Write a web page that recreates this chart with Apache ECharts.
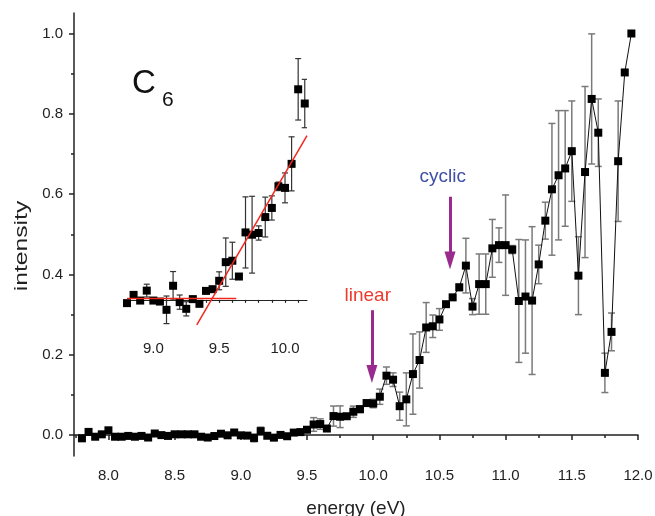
<!DOCTYPE html>
<html>
<head>
<meta charset="utf-8">
<script src="https://cdn.jsdelivr.net/npm/echarts@6/dist/echarts.min.js"></script>
<style>
  html, body { margin: 0; padding: 0; background: #fff; }
  #chart { width: 655px; height: 516px; }
</style>
</head>
<body>
<div id="chart"></div>
<script>
// Photoion yield of C6 versus photon energy, with a magnified inset of the onset region.
const energy = [
  7.80, 7.85, 7.90, 7.95, 8.00, 8.05, 8.10, 8.15, 8.20, 8.25,
  8.30, 8.35, 8.40, 8.45, 8.50, 8.55, 8.60, 8.65, 8.70, 8.75,
  8.80, 8.85, 8.90, 8.95, 9.00, 9.05, 9.10, 9.15, 9.20, 9.25,
  9.30, 9.35, 9.40, 9.45, 9.50, 9.55, 9.60, 9.65, 9.70, 9.75,
  9.80, 9.85, 9.90, 9.95, 10.00, 10.05, 10.10, 10.15, 10.20, 10.25,
  10.30, 10.35, 10.40, 10.45, 10.50, 10.55, 10.60, 10.65, 10.70, 10.75,
  10.80, 10.85, 10.90, 10.95, 11.00, 11.05, 11.10, 11.15, 11.20, 11.25,
  11.30, 11.35, 11.40, 11.45, 11.50, 11.55, 11.60, 11.65, 11.70, 11.75,
  11.80, 11.85, 11.90, 11.95
];
const intensity = [
  -0.008, 0.008, -0.004, 0.002, 0.012, -0.004, -0.004, -0.002, -0.004, -0.002,
  -0.006, 0.004, 0.000, -0.002, 0.002, 0.002, 0.002, 0.002, -0.004, -0.006,
  -0.0023, 0.0035, -0.0005, 0.0065, -0.0005, -0.0012, -0.007, 0.0099, -0.0016, -0.0063,
  0.0005, -0.0028, 0.0063, 0.0075, 0.0134, 0.0265, 0.0275, 0.0164, 0.0474, 0.0458,
  0.047, 0.0582, 0.0646, 0.0798, 0.0787, 0.0956, 0.148, 0.138, 0.072, 0.089,
  0.152, 0.187, 0.268, 0.271, 0.288, 0.326, 0.343, 0.368, 0.422, 0.320,
  0.376, 0.376, 0.465, 0.473, 0.473, 0.462, 0.334, 0.345, 0.335, 0.425,
  0.534, 0.612, 0.647, 0.664, 0.707, 0.397, 0.655, 0.837, 0.753, 0.155,
  0.257, 0.682, 0.903, 1.000
];
const errorBar = [
  0, 0, 0, 0, 0, 0, 0, 0, 0, 0,
  0, 0, 0, 0, 0, 0, 0, 0, 0, 0,
  0.002, 0, 0, 0.0045, 0, 0, 0.0097, 0.010, 0.005, 0.005,
  0.002, 0, 0, 0, 0.0063, 0.017, 0.013, 0, 0.025, 0.027,
  0.005, 0.014, 0.0085, 0.003, 0.0105, 0.019, 0.0216, 0.017, 0.035, 0.066,
  0.100, 0.070, 0.062, 0.028, 0.027, 0.005, 0.005, 0.008, 0.068, 0.020,
  0.075, 0.075, 0.072, 0.043, 0.125, 0.010, 0.153, 0.141, 0.184, 0.048,
  0.046, 0.164, 0.161, 0.144, 0.125, 0.097, 0.213, 0.162, 0.084, 0.049,
  0.047, 0.150, 0, 0
];

// Tick positions and labels
const xMajorTicks = [8.0, 8.5, 9.0, 9.5, 10.0, 10.5, 11.0, 11.5, 12.0];
const xMinorTicks = [7.75, 8.25, 8.75, 9.25, 9.75, 10.25, 10.75, 11.25, 11.75];
const yMajorTicks = [0.0, 0.2, 0.4, 0.6, 0.8, 1.0];
const yMinorTicks = [0.1, 0.3, 0.5, 0.7, 0.9];
const insetLabelTicks = [9.0, 9.5, 10.0];
const insetTicks = [8.8, 8.9, 9.0, 9.1, 9.2, 9.3, 9.4, 9.5, 9.6, 9.7, 9.8, 9.9, 10.0, 10.1];

// Range shown in the inset
const insetRange = [8.8, 10.167];

// Linear fits to the onset: flat baseline and rising edge
const baselineFit = [[8.8, 0.001], [9.63, 0.001]];
const edgeFit = [[9.33, -0.0176], [10.167, 0.1155]];

// Threshold arrows (energy, shaft top, head centre) and their captions
const linearArrow = { e: 9.99, top: 0.311, tip: 0.152 };
const cyclicArrow = { e: 10.58, top: 0.5935, tip: 0.435 };
const linearCaption = [9.959, 0.347];
const cyclicCaption = [10.525, 0.643];

const FONT = '"Liberation Sans", Arial, Helvetica, sans-serif';
const TXT = '#222';

const points = energy.map((e, i) => [e, intensity[i]]);
const bars = energy.map((e, i) => [e, intensity[i] - errorBar[i], intensity[i] + errorBar[i]])
  .filter((d, i) => errorBar[i] > 0);
const insetPoints = points.filter(p => p[0] >= insetRange[0] - 1e-9 && p[0] <= insetRange[1]);
const insetBars = bars.filter(b => b[0] >= insetRange[0] - 1e-9 && b[0] <= insetRange[1]);

function errorRenderer(color, width, capHalf) {
  return function (params, api) {
    const x = api.value(0);
    const top = api.coord([x, api.value(2)]);
    const bot = api.coord([x, api.value(1)]);
    const style = { stroke: color, lineWidth: width };
    return {
      type: 'group',
      children: [
        { type: 'line', shape: { x1: top[0], y1: top[1], x2: bot[0], y2: bot[1] }, style },
        { type: 'line', shape: { x1: top[0] - capHalf, y1: top[1], x2: top[0] + capHalf, y2: top[1] }, style },
        { type: 'line', shape: { x1: bot[0] - capHalf, y1: bot[1], x2: bot[0] + capHalf, y2: bot[1] }, style }
      ]
    };
  };
}

const chart = echarts.init(document.getElementById('chart'), null, { renderer: 'canvas' });

const axisLineStyle = { color: '#222', width: 1.5 };
const labelStyle = { color: TXT, fontSize: 15, fontFamily: FONT };

chart.setOption({
  animation: false,
  backgroundColor: '#fff',
  grid: [
    { left: 74, top: 13, width: 564, height: 443, containLabel: false, outerBoundsMode: 'none' },
    { left: 127, top: 58, width: 180, height: 276, containLabel: false, outerBoundsMode: 'none' }
  ],
  xAxis: [
    {
      type: 'value', gridIndex: 0, position: 'bottom', min: 7.74, max: 12.0,
      axisLine: { show: true, lineStyle: axisLineStyle },
      axisTick: { show: true, customValues: xMajorTicks, length: 5, lineStyle: { color: '#222', width: 1.5 } },
      axisLabel: { show: true, customValues: xMajorTicks, margin: 12, formatter: v => v.toFixed(1), ...labelStyle },
      splitLine: { show: false },
      name: 'energy (eV)', nameLocation: 'middle', nameGap: 43,
      nameTextStyle: { color: TXT, fontSize: 19, fontFamily: FONT }
    },
    {
      type: 'value', gridIndex: 0, position: 'bottom', min: 7.74, max: 12.0,
      axisLine: { show: false },
      axisTick: { show: true, customValues: xMinorTicks, length: 3, lineStyle: { color: '#222', width: 1.5 } },
      axisLabel: { show: false },
      splitLine: { show: false }
    },
    {
      type: 'value', gridIndex: 1, position: 'bottom', min: insetRange[0], max: insetRange[1],
      axisLine: { show: true, lineStyle: { color: '#222', width: 1.2 } },
      axisTick: { show: true, customValues: insetTicks, length: 3, lineStyle: { color: '#222', width: 1.2 } },
      axisLabel: { show: true, customValues: insetLabelTicks, margin: 7, formatter: v => v.toFixed(1), ...labelStyle },
      splitLine: { show: false }
    }
  ],
  yAxis: [
    {
      type: 'value', gridIndex: 0, position: 'left', min: -0.052, max: 1.051,
      axisLine: { show: true, lineStyle: axisLineStyle },
      axisTick: { show: true, customValues: yMajorTicks, length: 5, lineStyle: { color: '#222', width: 1.5 } },
      axisLabel: { show: true, customValues: yMajorTicks, margin: 11, formatter: v => v.toFixed(1), ...labelStyle },
      splitLine: { show: false }
    },
    {
      type: 'value', gridIndex: 0, position: 'left', min: -0.052, max: 1.051,
      axisLine: { show: false },
      axisTick: { show: true, customValues: yMinorTicks, length: 3, lineStyle: { color: '#222', width: 1.5 } },
      axisLabel: { show: false },
      splitLine: { show: false }
    },
    {
      type: 'value', gridIndex: 1, min: -0.024, max: 0.17,
      show: false, splitLine: { show: false }
    }
  ],
  graphic: [
    { type: 'text', x: 22, y: 246, rotation: Math.PI / 2, scaleX: 1.3,
      style: { text: 'intensity', fill: TXT, font: '19px ' + FONT, textAlign: 'center', textVerticalAlign: 'middle' } },
    { type: 'text', x: 132, y: 84,
      style: { text: 'C', fill: '#111', font: '33px ' + FONT, textAlign: 'left', textVerticalAlign: 'middle' } },
    { type: 'text', x: 162, y: 100,
      style: { text: '6', fill: '#111', font: '21px ' + FONT, textAlign: 'left', textVerticalAlign: 'middle' } }
  ],
  series: [
    {
      type: 'custom', name: 'error', xAxisIndex: 0, yAxisIndex: 0, z: 1,
      renderItem: errorRenderer('#7a7a7a', 1.5, 3.5),
      encode: { x: 0, y: [1, 2] },
      data: bars
    },
    {
      type: 'line', name: 'C6', xAxisIndex: 0, yAxisIndex: 0, z: 2,
      data: points,
      symbol: 'rect', symbolSize: 8,
      itemStyle: { color: '#000', opacity: 1 },
      lineStyle: { color: '#111', width: 1 },
      markLine: {
        silent: true,
        symbol: ['none', 'triangle'],
        symbolSize: [11, 18],
        lineStyle: { color: '#992a8e', width: 3, type: 'solid' },
        label: { show: false },
        data: [
          [{ coord: [linearArrow.e, linearArrow.top] }, { coord: [linearArrow.e, linearArrow.tip] }],
          [{ coord: [cyclicArrow.e, cyclicArrow.top] }, { coord: [cyclicArrow.e, cyclicArrow.tip] }]
        ]
      },
      markPoint: {
        silent: true,
        symbol: 'circle', symbolSize: 1,
        itemStyle: { color: 'rgba(0,0,0,0)' },
        data: [
          { coord: linearCaption, label: { show: true, position: 'inside', formatter: 'linear',
            color: '#ec3b2c', fontSize: 19, fontFamily: FONT } },
          { coord: cyclicCaption, label: { show: true, position: 'inside', formatter: 'cyclic',
            color: '#3f4ea6', fontSize: 19, fontFamily: FONT } }
        ]
      }
    },
    {
      type: 'custom', name: 'inset error', xAxisIndex: 2, yAxisIndex: 2, z: 3, clip: true,
      renderItem: errorRenderer('#333', 1.2, 3),
      encode: { x: 0, y: [1, 2] },
      data: insetBars
    },
    {
      type: 'scatter', name: 'inset', xAxisIndex: 2, yAxisIndex: 2, z: 4,
      data: insetPoints,
      symbol: 'rect', symbolSize: 8,
      itemStyle: { color: '#000', opacity: 1 }
    },
    {
      type: 'line', name: 'baseline fit', xAxisIndex: 2, yAxisIndex: 2, z: 5,
      data: baselineFit, symbol: 'none',
      lineStyle: { color: '#f0281e', width: 1.5 }
    },
    {
      type: 'line', name: 'edge fit', xAxisIndex: 2, yAxisIndex: 2, z: 5,
      data: edgeFit, symbol: 'none',
      lineStyle: { color: '#f0281e', width: 1.5 }
    }
  ]
});
</script>
</body>
</html>
